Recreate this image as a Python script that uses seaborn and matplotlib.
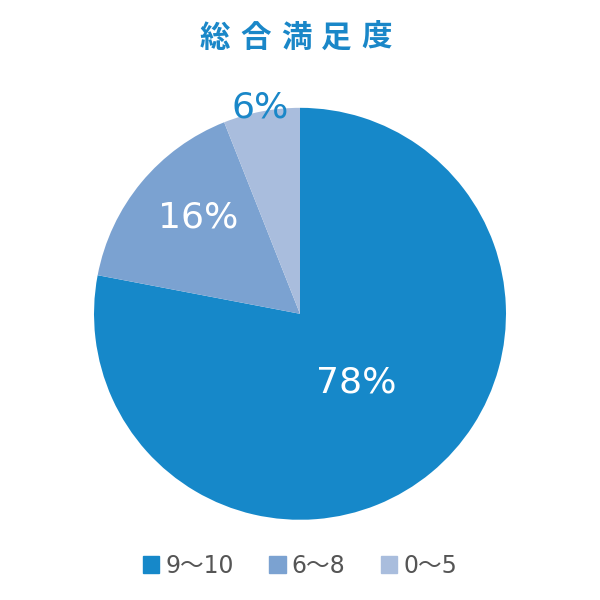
import numpy as np
import matplotlib
matplotlib.use("Agg")
import matplotlib.pyplot as plt
import matplotlib.patches as mpatches
import seaborn as sns

# データ
categories = ["9〜10", "6〜8", "0〜5"]
values = [78, 16, 6]
colors = ["#1688c9", "#7ba2d1", "#a9bddd"]
title = "総合満足度"

sns.set_theme(style="white")
plt.rcParams['font.family'] = ['DejaVu Sans', 'Noto Sans CJK JP']

fig = plt.figure(figsize=(6, 6), dpi=100)
ax = fig.add_axes([0.5 - 0.3433, 0.477 - 0.3433, 0.6866, 0.6866])

wedges, _ = ax.pie(values, colors=sns.color_palette(colors), startangle=90,
                   counterclock=False, radius=1.0,
                   wedgeprops=dict(linewidth=0))
ax.set_xlim(-1, 1)
ax.set_ylim(-1, 1)
ax.set_aspect("equal")

# ラベル位置 (半径比, 角度補正), 色
label_dist = [0.43, 0.68, 1.02]
label_rot = [0, -4, 0]
label_col = ["white", "white", "#1a87c8"]
for w, v, d, r, c in zip(wedges, values, label_dist, label_rot, label_col):
    ang = np.deg2rad((w.theta1 + w.theta2) / 2 + r)
    ax.text(d * np.cos(ang), d * np.sin(ang), f"{v}%", ha="center", va="center",
            fontsize=26, color=c, clip_on=False)

# タイトル (字間を広めに)
for i, ch in enumerate(title):
    fig.text((215 + i * 40.5) / 600, 1 - 38 / 600, ch, ha="center", va="center",
             fontsize=22, fontweight="bold", color="#1a87c8",
             family=['Noto Sans CJK JP', 'DejaVu Sans'])

handles = [mpatches.Patch(color=c, label=l) for c, l in zip(colors, categories)]
fig.legend(handles=handles, loc="center", bbox_to_anchor=(0.5, 1 - 566 / 600), ncol=3,
           frameon=False, handlelength=0.7, handleheight=0.7, handletextpad=0.25,
           columnspacing=1.5, fontsize=17, labelcolor="#555555")

fig.savefig("out.png", dpi=100)
